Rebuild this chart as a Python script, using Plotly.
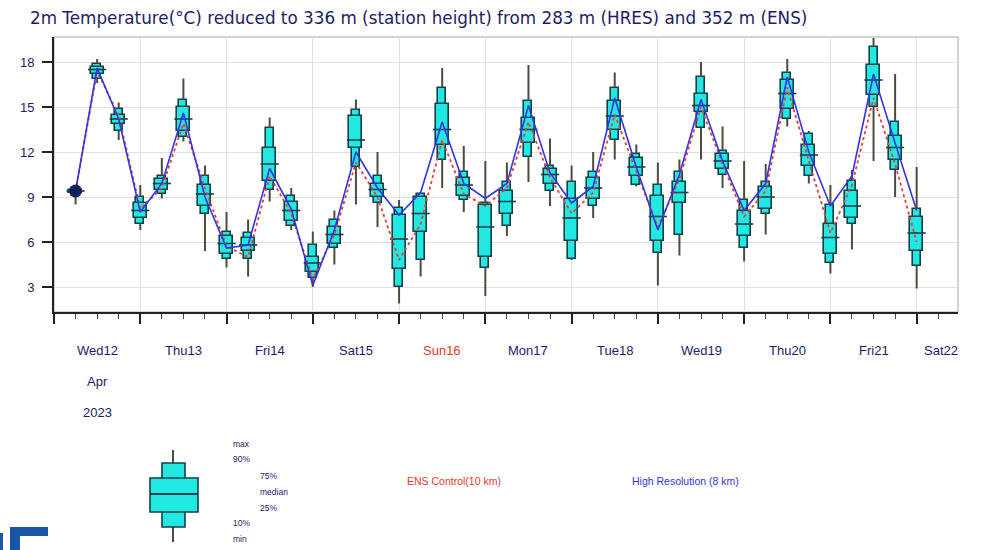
import plotly.graph_objects as go
import pandas as pd

# Forecast steps: every 6 hours from Wed 12 Apr 2023 06 UTC
times = pd.date_range("2023-04-12 06:00", periods=40, freq="6h")

# ENS distribution of 2 m temperature (deg C) at each step
ens_min = [8.5, 16.6, 12.8, 6.8, 8.9, 12.7, 5.4, 4.3, 3.7, 8.7,
           6.8, 3.0, 4.5, 8.5, 7.0, 1.9, 3.7, 9.6, 8.0, 2.4,
           6.4, 10.0, 8.4, 4.8, 7.6, 11.5, 9.7, 3.1, 5.1, 11.5,
           9.6, 4.7, 6.5, 13.7, 9.9, 3.9, 5.5, 11.4, 9.0, 2.9]
ens_p10 = [9.1, 16.9, 13.4, 7.2, 9.2, 13.0, 7.9, 4.9, 4.9, 9.5,
           7.1, 3.6, 5.6, 11.0, 8.6, 3.0, 4.8, 11.5, 8.8, 4.3,
           7.1, 11.7, 9.4, 4.9, 8.4, 12.8, 9.8, 5.3, 6.5, 13.6,
           10.5, 5.6, 7.9, 14.2, 10.4, 4.6, 7.2, 15.0, 10.8, 4.4]
ens_p25 = [9.3, 17.2, 13.9, 7.6, 9.5, 13.4, 8.4, 5.2, 5.4, 10.1,
           7.4, 4.0, 5.9, 12.3, 9.0, 4.2, 6.7, 12.5, 9.1, 5.0,
           7.9, 12.6, 9.9, 6.1, 8.9, 13.5, 10.4, 6.1, 8.6, 14.7,
           10.9, 6.4, 8.2, 14.9, 11.1, 5.2, 7.6, 15.8, 11.5, 5.4]
ens_med = [9.4, 17.5, 14.2, 8.1, 9.9, 14.2, 9.2, 5.9, 5.8, 11.2,
           8.1, 4.6, 6.5, 12.8, 9.5, 6.2, 7.9, 13.5, 9.8, 7.0,
           8.7, 13.5, 10.5, 7.6, 9.6, 14.4, 11.0, 7.7, 9.3, 15.1,
           11.4, 7.2, 9.0, 15.9, 11.8, 6.3, 8.4, 16.8, 12.3, 6.6]
ens_p75 = [9.5, 17.7, 14.5, 8.6, 10.2, 15.0, 9.8, 6.4, 6.3, 12.3,
           8.7, 5.0, 7.0, 14.4, 9.9, 7.8, 9.0, 15.2, 10.3, 8.5,
           9.4, 14.3, 10.9, 8.9, 10.3, 15.4, 11.6, 9.1, 10.0, 15.9,
           11.9, 8.1, 9.7, 16.8, 12.5, 7.2, 9.4, 17.8, 13.1, 7.7]
ens_p90 = [9.6, 17.9, 14.9, 9.0, 10.4, 15.5, 10.4, 6.7, 6.6, 13.6,
           9.1, 5.8, 7.5, 14.8, 10.4, 8.3, 9.2, 16.3, 10.7, 8.6,
           10.0, 15.4, 11.1, 10.0, 10.7, 16.3, 11.9, 9.8, 10.7, 17.0,
           12.1, 8.8, 10.0, 17.3, 13.2, 8.5, 10.1, 19.0, 14.0, 8.2]
ens_max = [9.8, 18.2, 15.3, 9.8, 11.6, 16.9, 11.1, 8.0, 7.5, 14.3,
           9.6, 6.7, 8.1, 15.5, 12.0, 8.8, 9.3, 17.6, 12.4, 11.4,
           11.3, 17.8, 12.9, 11.1, 12.0, 17.3, 12.5, 11.3, 11.5, 18.0,
           13.7, 11.4, 11.2, 18.2, 13.4, 9.8, 10.8, 19.6, 17.2, 11.0]

# Deterministic runs
hres = [9.4, 17.6, 14.2, 8.0, 9.9, 14.6, 9.0, 5.6, 5.8, 10.9,
        8.2, 3.1, 6.8, 12.0, 9.6, 7.8, 9.3, 14.0, 9.9, 8.9,
        9.9, 15.1, 10.6, 8.6, 9.7, 15.6, 11.0, 6.8, 10.5, 15.5,
        11.4, 8.1, 9.9, 17.0, 12.0, 8.4, 10.4, 17.2, 12.6, 8.1]
ens_control = [9.4, 17.4, 14.4, 8.2, 9.6, 13.9, 9.6, 5.7, 5.0, 10.4,
               7.9, 3.5, 6.5, 11.3, 9.0, 4.8, 7.2, 12.8, 9.2, 8.4,
               9.6, 14.0, 10.3, 7.9, 9.3, 14.5, 10.7, 7.0, 10.2, 15.0,
               11.2, 7.7, 9.4, 16.3, 11.4, 6.6, 9.8, 15.6, 11.2, 6.0]

# Axis labels
day_starts = pd.date_range("2023-04-12", periods=11, freq="D")
day_labels = ["Wed12", "Thu13", "Fri14", "Sat15", "Sun16", "Mon17",
              "Tue18", "Wed19", "Thu20", "Fri21", "Sat22"]
y_ticks = [3, 6, 9, 12, 15, 18]

NAVY = "#1c1c66"
CYAN = "#22e8e2"
EDGE = "#12404a"
FONT = "Liberation Sans"

# Geometry of the plotting area (pixels)
W, H = 994, 550
L, R, T, B = 54, 958, 37, 312
x_range = [pd.Timestamp("2023-04-12 00:00"), pd.Timestamp("2023-04-22 11:30")]
ms_per_px = (x_range[1] - x_range[0]).total_seconds() * 1000 / (R - L)


def px(x):
    return (x - L) / (R - L)


def py(y):
    return (B - y) / (B - T)


fig = go.Figure()

# Whiskers: min..p10 and p90..max
wx, wy = [], []
for t, lo, a, b, hi in zip(times, ens_min, ens_p10, ens_p90, ens_max):
    wx += [t, t, None, t, t, None]
    wy += [lo, a, None, b, hi, None]
fig.add_trace(go.Scatter(x=wx, y=wy, mode="lines",
                         line=dict(color="#4d4a3e", width=2),
                         hoverinfo="skip", showlegend=False))

# p10..p90 (narrow) and p25..p75 (wide) boxes
fig.add_trace(go.Bar(x=times, y=[b - a for a, b in zip(ens_p10, ens_p90)],
                     base=ens_p10, width=8 * ms_per_px,
                     marker=dict(color=CYAN, line=dict(color=EDGE, width=1.6)),
                     showlegend=False))
fig.add_trace(go.Bar(x=times, y=[b - a for a, b in zip(ens_p25, ens_p75)],
                     base=ens_p25, width=13 * ms_per_px,
                     marker=dict(color=CYAN, line=dict(color=EDGE, width=1.6)),
                     showlegend=False))

# Median ticks
fig.add_trace(go.Scatter(x=times, y=ens_med, mode="markers",
                         marker=dict(symbol="line-ew", size=13,
                                     line=dict(color=EDGE, width=1.6)),
                         showlegend=False))

# ENS control and HRES
fig.add_trace(go.Scatter(x=times, y=ens_control, mode="lines",
                         line=dict(color="#e2403a", width=1.8, dash="3px,3px"),
                         showlegend=False))
fig.add_trace(go.Scatter(x=times, y=hres, mode="lines",
                         line=dict(color="#3434de", width=1.6),
                         showlegend=False))
fig.add_trace(go.Scatter(x=times[:1], y=hres[:1], mode="markers",
                         marker=dict(color="#14205a", size=13),
                         showlegend=False))

annotations = []
for d, lab in zip(day_starts, day_labels):
    col = "#e23a2e" if lab.startswith("Sun") else NAVY
    noon = d + pd.Timedelta(hours=12)
    if noon <= x_range[1]:
        annotations.append(dict(
            x=noon, y=py(350), xref="x", yref="paper",
            text=lab, showarrow=False, yanchor="middle",
            font=dict(family=FONT, size=13, color=col)))
    else:
        # last day is only partly shown: label sits at the axis end
        annotations.append(dict(
            x=px(960), y=py(350), xref="paper", yref="paper",
            text=lab, showarrow=False, yanchor="middle",
            font=dict(family=FONT, size=13, color=col)))
for txt, yy in [("Apr", 381), ("2023", 412)]:
    annotations.append(dict(
        x=day_starts[0] + pd.Timedelta(hours=12), y=py(yy), xref="x",
        yref="paper", text=txt, showarrow=False, yanchor="middle",
        font=dict(family=FONT, size=13, color=NAVY)))

# Box legend labels
for txt, xx, yy in [("max", 231, 444), ("90%", 231, 459), ("75%", 258, 476),
                    ("median", 258, 492), ("25%", 258, 508), ("10%", 231, 523),
                    ("min", 231, 539)]:
    annotations.append(dict(x=px(xx), y=py(yy), xref="paper", yref="paper",
                            text=txt, showarrow=False, xanchor="left",
                            yanchor="middle",
                            font=dict(family=FONT, size=8.5, color=NAVY)))
annotations.append(dict(x=px(405), y=py(481), xref="paper", yref="paper",
                        text="ENS Control(10 km)", showarrow=False,
                        xanchor="left", yanchor="middle",
                        font=dict(family=FONT, size=10.5, color="#e23a2e")))
annotations.append(dict(x=px(630), y=py(481), xref="paper", yref="paper",
                        text="High Resolution (8 km)", showarrow=False,
                        xanchor="left", yanchor="middle",
                        font=dict(family=FONT, size=10.5, color="#3434cc")))

shapes = [
    # light frame on top / right
    dict(type="rect", xref="paper", yref="paper", x0=0, y0=0, x1=1, y1=1,
         line=dict(color="#c4c4c4", width=1.5), layer="below"),
]
# box legend glyph
for x0, y0, x1, y1 in [(173, 450, 173, 463), (173, 527, 173, 542)]:
    shapes.append(dict(type="line", xref="paper", yref="paper",
                       x0=px(x0), y0=py(y0), x1=px(x1), y1=py(y1),
                       line=dict(color="#4d4a3e", width=2)))
for x0, y0, x1, y1 in [(162, 463, 185, 527), (150, 478, 198, 512)]:
    shapes.append(dict(type="rect", xref="paper", yref="paper",
                       x0=px(x0), y0=py(y0), x1=px(x1), y1=py(y1),
                       fillcolor=CYAN, line=dict(color=EDGE, width=1.6)))
shapes.append(dict(type="line", xref="paper", yref="paper",
                   x0=px(150), y0=py(494), x1=px(198), y1=py(494),
                   line=dict(color=EDGE, width=1.8)))
# logo fragment at the bottom-left corner
for x0, y0, x1, y1 in [(10, 527, 48, 536), (10, 527, 20, 550), (0, 533, 3, 550)]:
    shapes.append(dict(type="rect", xref="paper", yref="paper",
                       x0=px(x0), y0=py(y0), x1=px(x1), y1=py(y1),
                       fillcolor="#1a56a6", line=dict(width=0)))

fig.update_layout(
    width=W, height=H,
    margin=dict(l=L, r=W - R, t=T, b=H - B, pad=0),
    paper_bgcolor="white", plot_bgcolor="white",
    barmode="overlay", bargap=0, showlegend=False,
    title=dict(text="2m Temperature(°C) reduced to 336 m (station height) "
                    "from 283 m (HRES) and 352 m (ENS)",
               xref="container", yref="container", x=30 / W, y=1 - 18 / H,
               xanchor="left", yanchor="middle",
               font=dict(family="DejaVu Sans", size=16.8, color=NAVY)),
    annotations=annotations, shapes=shapes,
    xaxis=dict(type="date", range=x_range, tickvals=list(day_starts),
               showticklabels=False, ticks="outside", ticklen=10,
               tickwidth=1.5, tickcolor="#222222", showline=True,
               linecolor="#222222", linewidth=2, showgrid=True,
               gridcolor="#e0e0e0", gridwidth=1, zeroline=False,
               minor=dict(ticks="outside", ticklen=5, tickwidth=1,
                          tickcolor="#444444", dtick=6 * 3600 * 1000,
                          tick0="2023-04-12", showgrid=False)),
    yaxis=dict(range=[18 - (B - 62) / 15, 18 + (62 - T) / 15],
               tickvals=y_ticks, ticks="outside", ticklen=10, tickwidth=1.5,
               tickcolor="#222222", showline=True, linecolor="#222222",
               linewidth=2, showgrid=True, gridcolor="#e0e0e0", gridwidth=1,
               zeroline=False, ticklabelstandoff=5,
               tickfont=dict(family=FONT, size=13, color=NAVY)),
)

fig.write_html("out.html")
